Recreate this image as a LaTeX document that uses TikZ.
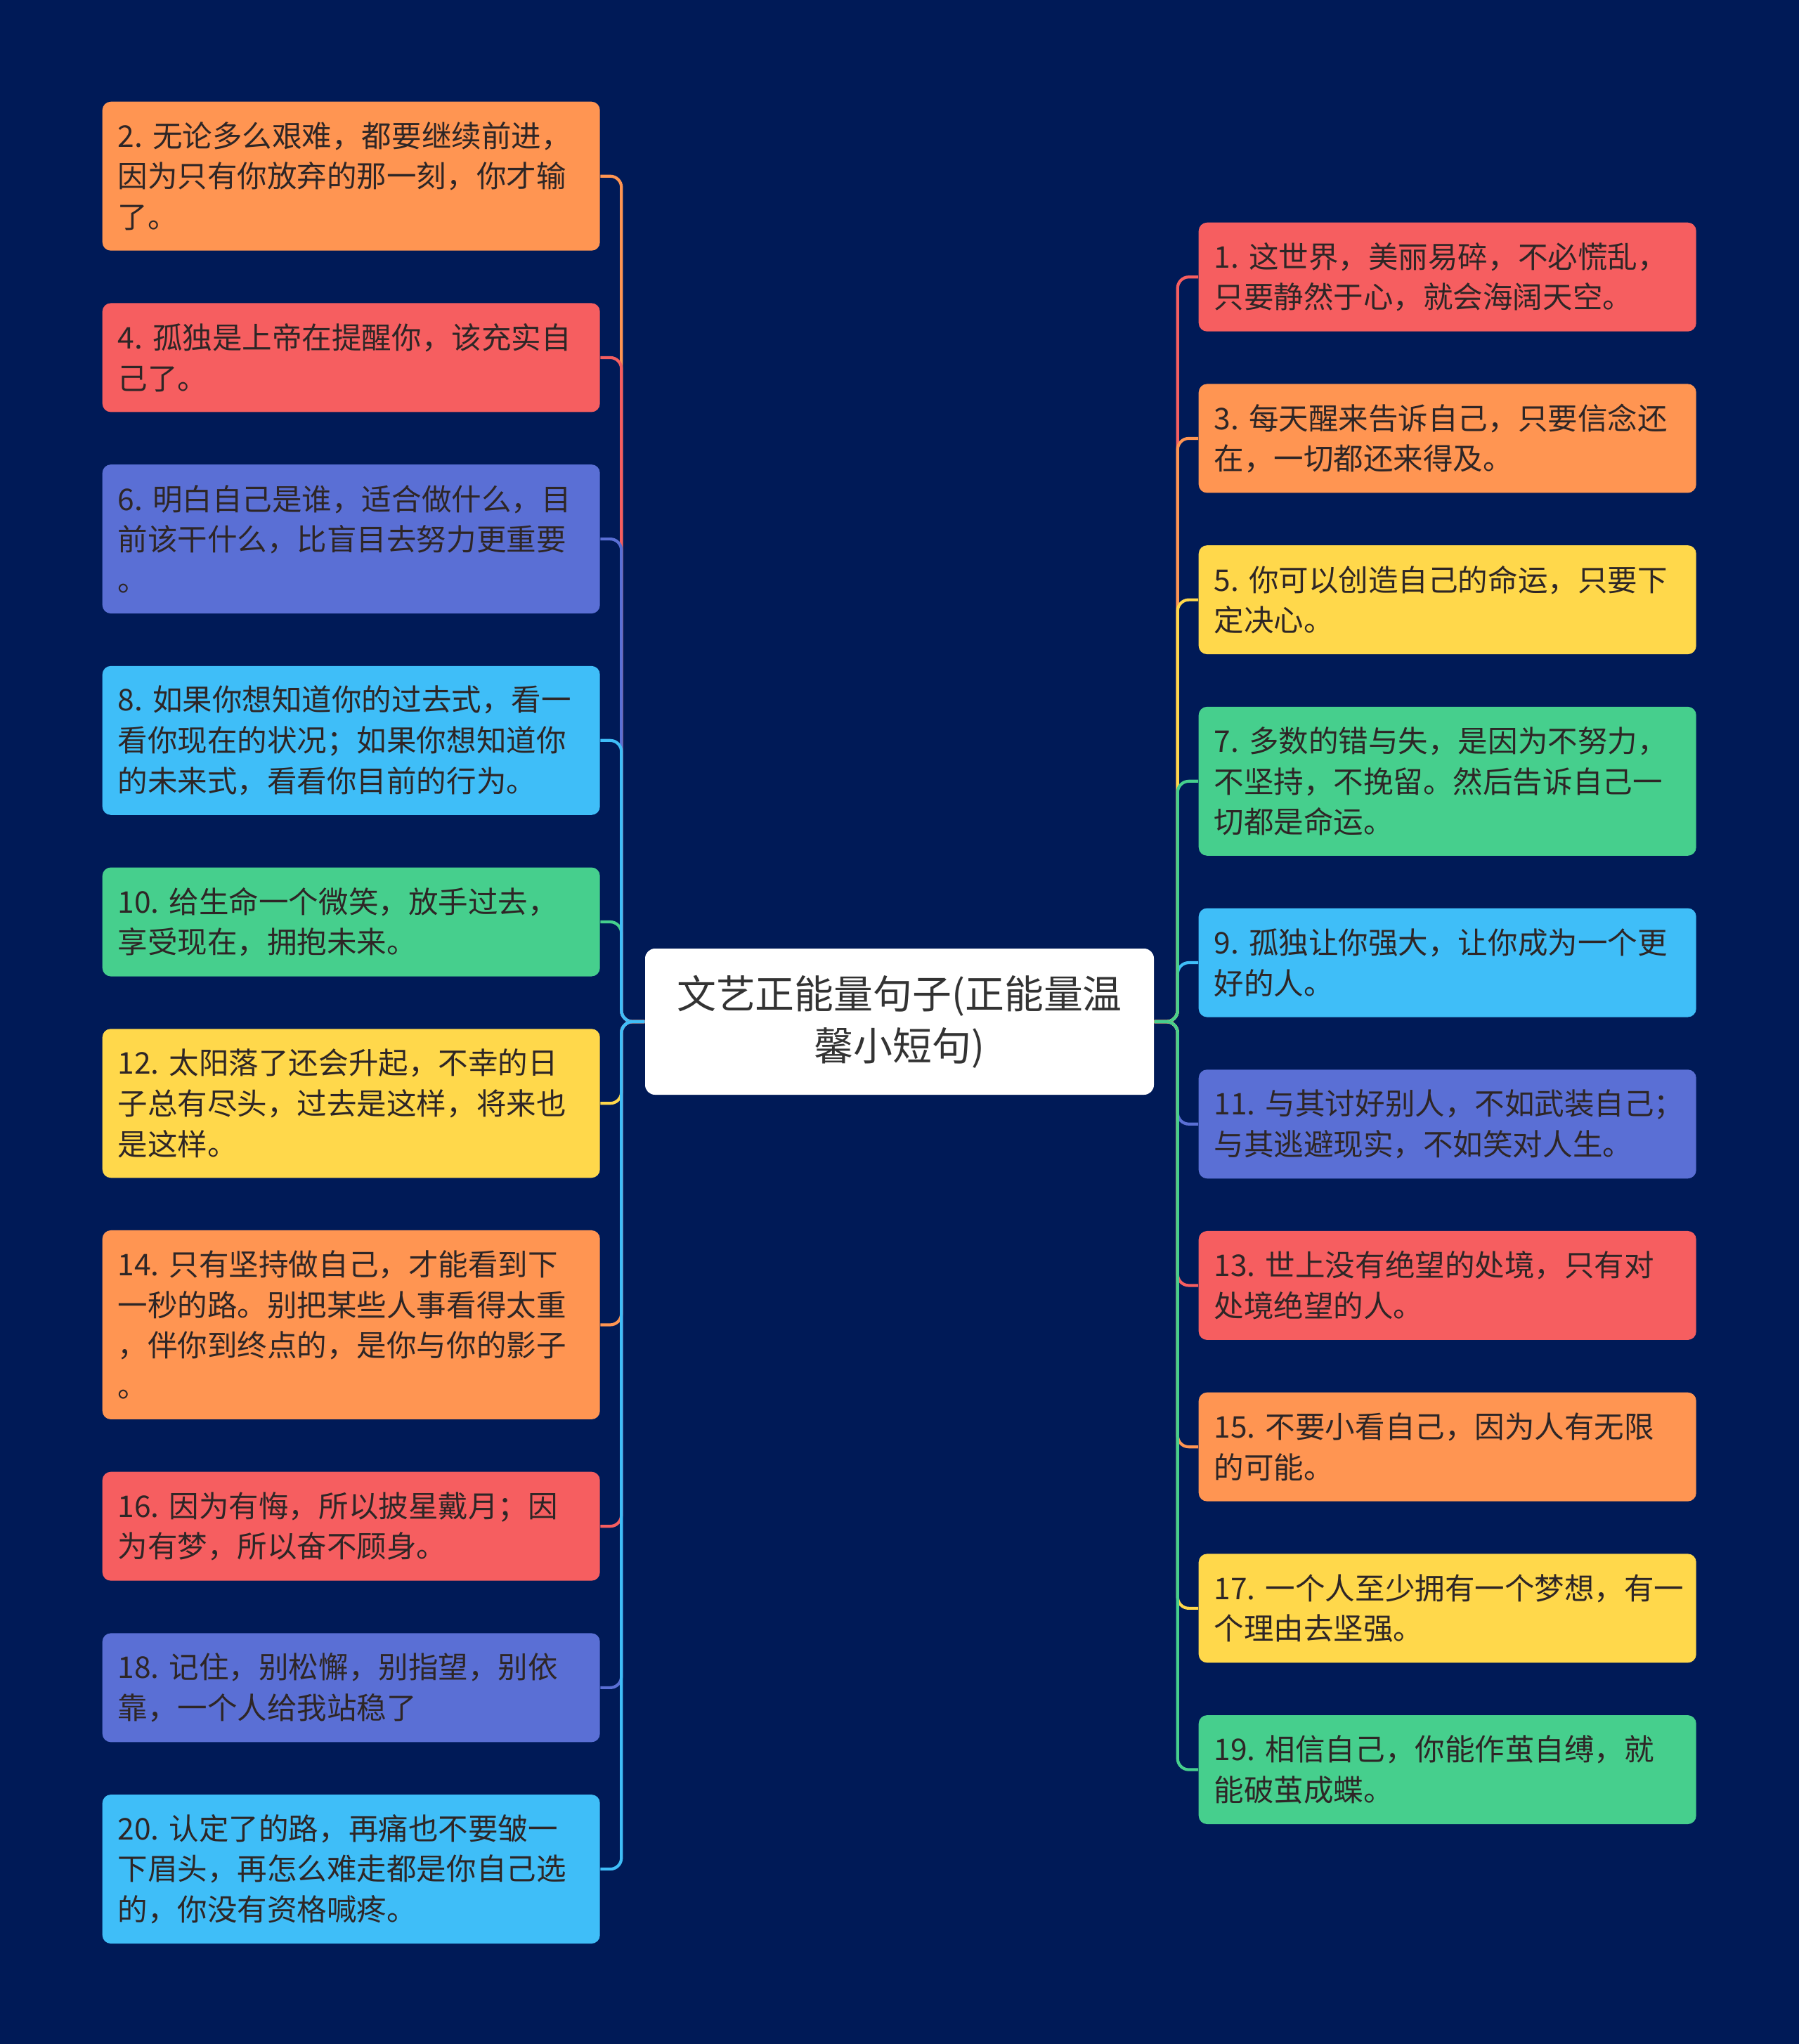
\documentclass[tikz,border=0pt]{standalone}
\usepackage{fontspec}
\setmainfont{Noto Sans CJK SC}
\usetikzlibrary{positioning}

\definecolor{bgnavy}{HTML}{001A57}
\definecolor{qorange}{HTML}{FF9552}
\definecolor{qred}{HTML}{F65E60}
\definecolor{qpurple}{HTML}{5A6FD5}
\definecolor{qblue}{HTML}{3FBEF8}
\definecolor{qgreen}{HTML}{46CF8D}
\definecolor{qyellow}{HTML}{FFD84B}
\definecolor{qtext}{HTML}{2E2626}

\begin{document}
\begin{tikzpicture}[
    node distance=0.733cm,
    quote/.style={rectangle, rounded corners=0.12cm, text=qtext, text width=6.64cm, align=left, inner xsep=0.22cm, inner ysep=0pt, font=\fontsize{12.1}{16.4}\selectfont},
    two/.style={minimum height=1.55cm},
    three/.style={minimum height=2.12cm},
    four/.style={minimum height=2.69cm},
    topic/.style={rectangle, fill=white, rounded corners=0.14cm, minimum width=7.24cm, minimum height=2.08cm, align=center, text=black!80, font=\fontsize{15.9}{21}\selectfont},
    link/.style={line width=1.2pt, rounded corners=0.16cm}
]

% background
\fill[bgnavy] (0,0) rectangle (25.6,-29.09);

% Central topic
\node[topic] (main) at (12.80,-14.54) {文艺正能量句子(正能量温\\馨小短句)};
\coordinate[left=0.33cm of main.west] (ltrunk);
\coordinate[right=0.33cm of main.east] (rtrunk);

% Left column
\node[quote, three, fill=qorange, anchor=north west] (q2) at (1.45,-1.44) {2.~无论多么艰难，都要继续前进，\\因为只有你放弃的那一刻，你才输\\了。};
\node[quote, two, fill=qred, below=of q2] (q4) {4.~孤独是上帝在提醒你，该充实自\\己了。};
\node[quote, three, fill=qpurple, below=of q4] (q6) {6.~明白自己是谁，适合做什么，目\\前该干什么，比盲目去努力更重要\\。};
\node[quote, three, fill=qblue, below=of q6] (q8) {8.~如果你想知道你的过去式，看一\\看你现在的状况；如果你想知道你\\的未来式，看看你目前的行为。};
\node[quote, two, fill=qgreen, below=of q8] (q10) {10.~给生命一个微笑，放手过去，\\享受现在，拥抱未来。};
\node[quote, three, fill=qyellow, below=of q10] (q12) {12.~太阳落了还会升起，不幸的日\\子总有尽头，过去是这样，将来也\\是这样。};
\node[quote, four, fill=qorange, below=of q12] (q14) {14.~只有坚持做自己，才能看到下\\一秒的路。别把某些人事看得太重\\，伴你到终点的，是你与你的影子\\。};
\node[quote, two, fill=qred, below=of q14] (q16) {16.~因为有悔，所以披星戴月；因\\为有梦，所以奋不顾身。};
\node[quote, two, fill=qpurple, below=of q16] (q18) {18.~记住，别松懈，别指望，别依\\靠，一个人给我站稳了};
\node[quote, three, fill=qblue, below=of q18] (q20) {20.~认定了的路，再痛也不要皱一\\下眉头，再怎么难走都是你自己选\\的，你没有资格喊疼。};

% Right column
\node[quote, two, fill=qred, anchor=north west] (q1) at (17.05,-3.16) {1.~这世界，美丽易碎，不必慌乱，\\只要静然于心，就会海阔天空。};
\node[quote, two, fill=qorange, below=of q1] (q3) {3.~每天醒来告诉自己，只要信念还\\在，一切都还来得及。};
\node[quote, two, fill=qyellow, below=of q3] (q5) {5.~你可以创造自己的命运，只要下\\定决心。};
\node[quote, three, fill=qgreen, below=of q5] (q7) {7.~多数的错与失，是因为不努力，\\不坚持，不挽留。然后告诉自己一\\切都是命运。};
\node[quote, two, fill=qblue, below=of q7] (q9) {9.~孤独让你强大，让你成为一个更\\好的人。};
\node[quote, two, fill=qpurple, below=of q9] (q11) {11.~与其讨好别人，不如武装自己；\\与其逃避现实，不如笑对人生。};
\node[quote, two, fill=qred, below=of q11] (q13) {13.~世上没有绝望的处境，只有对\\处境绝望的人。};
\node[quote, two, fill=qorange, below=of q13] (q15) {15.~不要小看自己，因为人有无限\\的可能。};
\node[quote, two, fill=qyellow, below=of q15] (q17) {17.~一个人至少拥有一个梦想，有一\\个理由去坚强。};
\node[quote, two, fill=qgreen, below=of q17] (q19) {19.~相信自己，你能作茧自缚，就\\能破茧成蝶。};

% Left links
\draw[link, qgreen] (main.west) -- (ltrunk) |- (q10.east);
\draw[link, qorange] (main.west) -- (ltrunk) |- (q2.east);
\draw[link, qred] (main.west) -- (ltrunk) |- (q4.east);
\draw[link, qpurple] (main.west) -- (ltrunk) |- (q6.east);
\draw[link, qblue] (main.west) -- (ltrunk) |- (q8.east);
\draw[link, qyellow] (main.west) -- (ltrunk) |- (q12.east);
\draw[link, qorange] (main.west) -- (ltrunk) |- (q14.east);
\draw[link, qred] (main.west) -- (ltrunk) |- (q16.east);
\draw[link, qpurple] (main.west) -- (ltrunk) |- (q18.east);
\draw[link, qblue] (main.west) -- (ltrunk) |- (q20.east);

% Right links
\draw[link, qblue] (main.east) -- (rtrunk) |- (q9.west);
\draw[link, qred] (main.east) -- (rtrunk) |- (q1.west);
\draw[link, qorange] (main.east) -- (rtrunk) |- (q3.west);
\draw[link, qyellow] (main.east) -- (rtrunk) |- (q5.west);
\draw[link, qgreen] (main.east) -- (rtrunk) |- (q7.west);
\draw[link, qpurple] (main.east) -- (rtrunk) |- (q11.west);
\draw[link, qred] (main.east) -- (rtrunk) |- (q13.west);
\draw[link, qorange] (main.east) -- (rtrunk) |- (q15.west);
\draw[link, qyellow] (main.east) -- (rtrunk) |- (q17.west);
\draw[link, qgreen] (main.east) -- (rtrunk) |- (q19.west);

\end{tikzpicture}
\end{document}
